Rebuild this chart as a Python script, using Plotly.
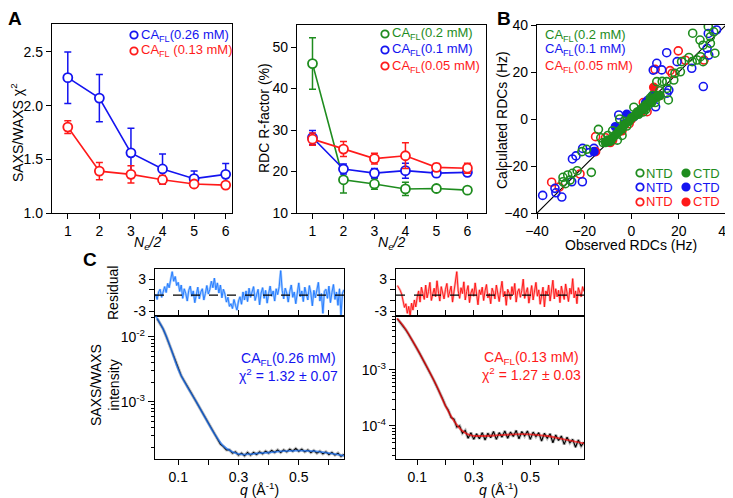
import plotly.graph_objects as go

W, H = 733, 498
OFF = 8  # page body margin: shift all placements up/left by this many pixels
FONT = "Arial, Liberation Sans, sans-serif"

BLUE = "#1414f0"
RED = "#ff1a1a"
GREEN = "#1e8c1e"
RES_BLUE = "#1f78ff"
RES_RED = "#ff0d0d"

# ── Panel A (left): SAXS/WAXS chi^2 vs Ne/2 ──
ne_half = [1, 2, 3, 4, 5, 6]
chi2_026 = [2.26, 2.07, 1.56, 1.41, 1.32, 1.36]
chi2_026_err = [0.24, 0.22, 0.23, 0.14, 0.07, 0.10]
chi2_013 = [1.80, 1.39, 1.36, 1.31, 1.27, 1.26]
chi2_013_err = [0.06, 0.08, 0.08, 0.04, 0.03, 0.03]

# ── Panel A (right): RDC R-factor vs Ne/2 ──
rfac_02 = [46.0, 18.0, 17.0, 15.8, 15.9, 15.5]
rfac_02_err = [6.2, 3.2, 1.3, 1.6, 0.5, 0.5]
rfac_01 = [28.2, 20.6, 19.6, 20.2, 19.6, 19.8]
rfac_01_err = [1.7, 1.2, 1.1, 1.8, 0.8, 0.7]
rfac_005 = [27.8, 25.4, 23.1, 23.8, 21.0, 20.8]
rfac_005_err = [1.5, 1.8, 1.3, 3.1, 0.9, 1.2]

# ── Panel B: calculated vs observed RDCs ──
g_ntd_obs = [-29, -29, -27, -26, -25, -23, -28, -17, -21, -19, -14, -13, -12, -10, -8, -6, -4,
             -2, -5, -3, 1, 3, 5, 7, 8, 10, 11, 13, 15, 15.6, 17.9, 18.4, 20.7, 21.2, 24.3, 25.7,
             27.8, 29.2, 30.3, 25.9, 29, 30.3, 32.5, 33.4, 34.8, 33.4, 35.3, 9, 12, 6, 14.9, 10.7]
g_ntd_calc = [-26.7, -24.8, -23.8, -26, -23.1, -22, -27.5, -22.7, -13.9, -12.9, -4.4, -8, -10,
              -7, -5, -9, -7, -3, 0, -1, 5, 2, 3, 6, 9, 7, 10, 16, 13, 8.1, 16.6, 19.4, 20.1,
              24.4, 26.2, 24.4, 25.1, 26.5, 24.4, 36.5, 33.6, 31.4, 39.3, 35, 37.1, 32.2, 28,
              10, 12, 4, 15.9, 15.9]
g_ctd_obs = [-11, -10, -9, -8, -7, -5, -4, -3, -1, 0, 1, 2, 3, 4, 5, 6, 7, 8, 9, 10, 11, 12,
             -6, 2.5, 5.5, 8.5]
g_ctd_calc = [-10, -9, -9.5, -8, -7, -5, -4, -2.5, -1, 0.5, 1, 2, 2.5, 4, 5, 6, 6.5, 8, 8.5, 9,
              9.5, 10, -6, 3, 4.5, 7]
b_ntd_obs = [-37.6, -32.4, -32, -29.5, -25.3, -20.8, -25, -23.5, -17.9, -20.7, -15.9, -9.6,
             -5.4, 10.2, 14.9, 10.7, 12.8, 9.2, 19.3, 25.5, 15.8, 15, 32.5, 36, 32, 32.7, 30.4,
             -3, 4, 7]
b_ntd_calc = [-32.5, -29.5, -31.4, -33.2, -26.7, -26.7, -17, -15.7, -14.3, -12.5, -12.5, -9.6,
              1.7, 5.2, 28.2, 23.7, 20.9, 20.8, 24.4, 21.6, 12.3, 11, 36.4, 37.9, 30.1, 27.2,
              13.8, -2, 4, 8]
b_ctd_obs = [-15.9, -6.8, -2, 1, 6, 9]
b_ctd_calc = [-13.9, -3.3, 2, 1, 7, 10]
r_ntd_obs = [-33.8, -30.6, -21.8, -15.2, -11, -6, -1, 3, 6.6, 10, 16.3, 17.2, 19.8, 22.8,
             30.7, 12, -9, 5]
r_ntd_calc = [-26.9, -29, -23.4, -7.5, -8, -6, -2, 3, 3.1, 21.1, 20.6, 19.4, 29, 25, 25.1,
              10, -10, 7]
r_ctd_obs = [-15.2, -8, 0, 9.4, -4, 4]
r_ctd_calc = [-13.9, -9, 0, 13.5, -5, 3]
rdc_diag = [-40, 40]

# ── Panel C: residuals (uniform q grid: start + step) ──
res_q0_026, res_dq_026 = 0.025, 0.005
res_026 = [0.2, -0.8, 0.6, 1.1, -0.4, 0.9, 1.6, 0.5, 2.2, 1.4,
           3.1, 4.4, 2.6, 3.5, 1.8, 2.4, 0.7, 1.9, -0.6, 1.2,
           0.3, -1.1, 0.9, 1.7, -0.2, 0.8, -1.4, 0.4, 1.5, -0.7,
           0.6, 1.2, -0.9, 0.3, 1.8, 0.2, 1.1, 2.6, 1.4, 3.2,
           1.0, 2.3, 0.4, 1.9, -0.5, 1.1, 0.2, -1.3, -0.4, -2.1,
           -1.6, -2.5, -0.8, -1.9, -2.8, -1.1, -0.3, -1.7, 0.6, -0.9,
           0.8, -1.2, 1.3, -0.4, 0.5, 1.6, -1.0, 0.2, 1.1, -1.8,
           0.4, 1.4, -0.6, 0.9, -1.5, 0.3, 1.7, -0.2, 0.8, -1.1,
           1.2, 0.1, 1.6, 4.6, 0.9, -0.7, 1.3, 0.4, -1.3, 0.7,
           1.9, -0.4, 0.6, -1.6, 1.0, 2.3, -0.3, 0.8, -1.2, 1.5,
           0.2, -0.9, 1.8, 0.4, -2.0, 0.9, -0.5, 1.3, 2.4, -1.1,
           0.3, -3.4, 0.7, 1.1, -0.6, 1.7, -1.4, 0.5, 2.0, -0.8,
           0.6, -1.9, 1.2, -3.7, 0.4, 1.0]
res_q0_013, res_dq_013 = 0.03, 0.005
res_013 = [1.8, 1.4, 0.9, 0.2, -1.2, -2.3, -1.6, -3.4, -2.1, -3.9,
           -1.5, -2.8, -0.9, -2.2, -0.4, 0.8, -1.3, 1.5, 0.3, -0.8,
           1.9, -0.5, 0.7, 2.4, -1.0, 0.4, 1.3, -0.3, 2.7, 0.6,
           -1.1, 1.6, 0.2, -0.7, 1.1, 2.2, -0.4, 0.9, 1.7, -1.3,
           0.5, 2.1, 4.4, 0.8, -0.6, 1.4, 0.3, 2.5, -0.9, 0.7,
           1.8, -1.4, 0.4, 1.2, -0.2, 2.3, 0.6, -1.8, 1.0, 0.1,
           1.5, -1.0, 0.8, 2.0, -0.5, 0.3, -1.6, 1.3, 0.5, -0.7,
           1.9, 0.2, -1.2, 0.9, 2.6, -0.3, 0.7, -1.9, 1.1, 0.4,
           -0.8, 1.6, 0.1, 2.2, -1.3, 0.6, 1.2, -0.4, 0.9, 3.0,
           -0.6, 0.5, 1.4, -1.5, 0.2, 1.8, -0.9, 0.7, 2.4, -0.2,
           1.0, -1.7, 0.4, 1.5, -2.2, 0.8, 0.1, 1.9, -1.1, 0.6,
           2.8, -0.7, 1.2, -0.3, 0.9, -1.4, 1.7, 0.3, -0.8, 2.1,
           0.5, -1.2, 1.3, 0.2, 3.1, -0.5, 0.8, -1.6, 1.4, 0.4,
           -0.3, 1.6, 0.7]

# ── Panel C: intensities (log10 values) ──
exp_q0, exp_dq = 0.03, 0.01
exp_log_026 = [-1.72, -1.80, -1.88, -1.99, -2.11, -2.24, -2.37, -2.50, -2.60, -2.68,
               -2.77, -2.84, -2.92, -3.00, -3.08, -3.17, -3.25, -3.34, -3.42, -3.50,
               -3.58, -3.65, -3.69, -3.74, -3.74, -3.79, -3.77, -3.82, -3.79, -3.83,
               -3.78, -3.82, -3.78, -3.81, -3.77, -3.80, -3.76, -3.79, -3.75, -3.78,
               -3.74, -3.78, -3.74, -3.77, -3.73, -3.76, -3.72, -3.76, -3.73, -3.77,
               -3.74, -3.78, -3.75, -3.79, -3.76, -3.80, -3.77, -3.81, -3.78, -3.82,
               -3.79, -3.84, -3.81]
exp_log_013 = [-2.09, -2.15, -2.21, -2.29, -2.37, -2.45, -2.54, -2.63, -2.72, -2.81,
               -2.90, -3.00, -3.10, -3.20, -3.30, -3.41, -3.52, -3.64, -3.72, -3.85,
               -3.88, -4.02, -4.00, -4.13, -4.08, -4.22, -4.12, -4.24, -4.14, -4.23,
               -4.12, -4.25, -4.13, -4.21, -4.10, -4.24, -4.12, -4.20, -4.09, -4.22,
               -4.11, -4.19, -4.08, -4.23, -4.10, -4.18, -4.09, -4.24, -4.11, -4.19,
               -4.12, -4.27, -4.13, -4.22, -4.14, -4.30, -4.16, -4.26, -4.18, -4.33,
               -4.20, -4.30, -4.24, -4.38, -4.25, -4.36, -4.29]
fit_q_026 = [0.025, 0.05, 0.075, 0.10, 0.13, 0.16, 0.19, 0.22, 0.25, 0.28, 0.31, 0.35,
             0.40, 0.45, 0.50, 0.55, 0.60, 0.65]
fit_log_026 = [-1.68, -1.88, -2.17, -2.50, -2.77, -3.00, -3.25, -3.49, -3.68, -3.77, -3.81,
               -3.80, -3.78, -3.76, -3.75, -3.76, -3.79, -3.83]
fit_q_013 = [0.028, 0.05, 0.08, 0.11, 0.14, 0.17, 0.20, 0.23, 0.26, 0.29, 0.32, 0.38, 0.44,
             0.50, 0.56, 0.62, 0.69]
fit_log_013 = [-2.08, -2.21, -2.45, -2.72, -3.00, -3.30, -3.64, -3.91, -4.09, -4.17, -4.18,
               -4.17, -4.15, -4.15, -4.18, -4.24, -4.31]

q_ticks = [0.1, 0.2, 0.3, 0.4, 0.5, 0.6]
q_ticktext = ["0.1", "", "0.3", "", "0.5", ""]


def xdom(l, r):
    return [(l - OFF) / W, (r - OFF) / W]


def ydom(t, b):
    return [1 - (b - OFF) / H, 1 - (t - OFF) / H]


def axis(**kw):
    base = dict(showline=True, linecolor="black", linewidth=1.3, mirror=True,
                ticks="outside", ticklen=5, tickwidth=1.3, tickcolor="black",
                showgrid=False, zeroline=False, automargin=False,
                tickfont=dict(size=14, color="black", family=FONT))
    base.update(kw)
    return base


def log_axis(lo, hi, decades, **kw):
    minors = [m * 10.0 ** d for d in range(-5, 0) for m in range(2, 10)]
    return axis(type="log", range=[lo, hi], tickmode="array",
                tickvals=[10.0 ** d for d in decades],
                ticktext=[f"10<sup>{d}</sup>" for d in decades],
                ticklen=6, minor=dict(tickmode="array", tickvals=minors, ticks="outside",
                                      ticklen=3, tickwidth=1, tickcolor="black"), **kw)


fig = go.Figure()

# Panel A left
for y, e, c in [(chi2_026, chi2_026_err, BLUE), (chi2_013, chi2_013_err, RED)]:
    fig.add_trace(go.Scatter(
        x=ne_half, y=y, mode="lines+markers", xaxis="x", yaxis="y",
        line=dict(color=c, width=1.6),
        marker=dict(symbol="circle", size=9, color="white", line=dict(color=c, width=1.8)),
        error_y=dict(type="data", array=e, color=c, thickness=1.5, width=3.5),
    ))

# Panel A right
for y, e, c in [(rfac_02, rfac_02_err, GREEN), (rfac_01, rfac_01_err, BLUE),
                (rfac_005, rfac_005_err, RED)]:
    fig.add_trace(go.Scatter(
        x=ne_half, y=y, mode="lines+markers", xaxis="x2", yaxis="y2",
        line=dict(color=c, width=1.6),
        marker=dict(symbol="circle", size=9, color="white", line=dict(color=c, width=1.8)),
        error_y=dict(type="data", array=e, color=c, thickness=1.5, width=3.5),
    ))

# Panel B
fig.add_trace(go.Scatter(x=rdc_diag, y=rdc_diag, mode="lines", xaxis="x3", yaxis="y3",
                         line=dict(color="black", width=1.2)))
for xs, ys, c, sym in [(r_ntd_obs, r_ntd_calc, RED, "circle-open"),
                       (b_ntd_obs, b_ntd_calc, BLUE, "circle-open"),
                       (r_ctd_obs, r_ctd_calc, RED, "circle"),
                       (b_ctd_obs, b_ctd_calc, BLUE, "circle"),
                       (g_ntd_obs, g_ntd_calc, GREEN, "circle-open"),
                       (g_ctd_obs, g_ctd_calc, GREEN, "circle")]:
    fig.add_trace(go.Scatter(
        x=xs, y=ys, mode="markers", xaxis="x3", yaxis="y3",
        marker=dict(symbol=sym, size=8, color=c, line=dict(color=c, width=1.6)),
    ))

# Panel C residuals
for res, q0, dq, c, xa, ya, halo in [
        (res_026, res_q0_026, res_dq_026, RES_BLUE, "x4", "y4", "rgba(90,160,255,0.55)"),
        (res_013, res_q0_013, res_dq_013, RES_RED, "x6", "y6", "rgba(255,110,110,0.55)")]:
    fig.add_trace(go.Scatter(y=res, x0=q0, dx=dq, mode="lines", xaxis=xa, yaxis=ya,
                             line=dict(color=halo, width=2.4)))
    fig.add_trace(go.Scatter(y=res, x0=q0, dx=dq, mode="lines", xaxis=xa, yaxis=ya,
                             line=dict(color=c, width=0.9)))

# Panel C intensities
for exp_log, fq, flog, c, xa, ya in [
        (exp_log_026, fit_q_026, fit_log_026, RES_BLUE, "x5", "y5"),
        (exp_log_013, fit_q_013, fit_log_013, RES_RED, "x7", "y7")]:
    fig.add_trace(go.Scatter(y=[10 ** v for v in exp_log], x0=exp_q0, dx=exp_dq,
                             mode="lines", xaxis=xa, yaxis=ya,
                             line=dict(color="rgba(0,0,0,0.25)", width=3.2)))
    fig.add_trace(go.Scatter(y=[10 ** v for v in exp_log], x0=exp_q0, dx=exp_dq,
                             mode="lines", xaxis=xa, yaxis=ya,
                             line=dict(color="black", width=1.1)))
    fig.add_trace(go.Scatter(x=fq, y=[10 ** v for v in flog], mode="lines",
                             xaxis=xa, yaxis=ya, line=dict(color=c, width=1.8, shape="spline"),
                             opacity=0.7))

# ── annotations and legend symbols (pixel positions) ──
annotations = []
shapes = []


def ann(px, py, text, size=14, color="black", angle=0, xanchor="center", bold=False):
    annotations.append(dict(
        x=(px - OFF) / W, y=1 - (py - OFF) / H, xref="paper", yref="paper",
        text=f"<b>{text}</b>" if bold else text,
        showarrow=False, textangle=angle, xanchor=xanchor, yanchor="middle",
        font=dict(size=size, color=color, family=FONT)))


def circ(px, py, color, filled=False, r=3.7):
    px, py = px - OFF, py - OFF
    shapes.append(dict(
        type="circle", xref="paper", yref="paper",
        x0=(px - r) / W, x1=(px + r) / W, y0=1 - (py + r) / H, y1=1 - (py - r) / H,
        line=dict(color=color, width=1.8), fillcolor=color if filled else "white"))


CAFL = "CA<sub>FL</sub>"

ann(15, 18, "A", size=19, bold=True)
ann(504, 18, "B", size=19, bold=True)
ann(90, 260, "C", size=19, bold=True)

# Panel A left legend and titles
circ(134, 35, BLUE)
ann(139, 35, f"{CAFL}(0.26 mM)", 13, BLUE, xanchor="left")
circ(134, 51, RED)
ann(139, 51, f"{CAFL} (0.13 mM)", 13, RED, xanchor="left")
ann(17, 133, "SAXS/WAXS χ<sup>2</sup>", 14, angle=-90)
ann(147, 243, "<i>N<sub>e</sub>/2</i>", 14)

# Panel A right legend and titles
circ(385, 34, GREEN)
ann(390, 34, f"{CAFL}(0.2 mM)", 13, GREEN, xanchor="left")
circ(385, 50, BLUE)
ann(390, 50, f"{CAFL}(0.1 mM)", 13, BLUE, xanchor="left")
circ(385, 66, RED)
ann(390, 66, f"{CAFL}(0.05 mM)", 13, RED, xanchor="left")
ann(264, 118, "RDC R-factor (%)", 14, angle=-90)
ann(391, 243, "<i>N<sub>e</sub>/2</i>", 14)

# Panel B legend and titles
ann(543, 35, f"{CAFL}(0.2 mM)", 13, GREEN, xanchor="left")
ann(543, 50, f"{CAFL}(0.1 mM)", 13, BLUE, xanchor="left")
ann(543, 66, f"{CAFL}(0.05 mM)", 13, RED, xanchor="left")
for py, c in [(173, GREEN), (187, BLUE), (202, RED)]:
    circ(640, py, c)
    ann(644, py, "NTD", 13, c, xanchor="left")
    circ(686, py, c, filled=True)
    ann(691, py, "CTD", 13, c, xanchor="left")
ann(502, 120, "Calculated RDCs (Hz)", 14, angle=-90)
ann(631, 245, "Observed RDCs (Hz)", 14)

# Panel C titles and labels
ann(113, 293, "Residual", 14, angle=-90)
ann(105, 385, "SAXS/WAXS<br>intensity", 14, angle=-90)
ann(259, 489, "<i>q</i> (Å<sup>-1</sup>)", 14)
ann(498, 489, "<i>q</i> (Å<sup>-1</sup>)", 14)
ann(288, 367, f"{CAFL}(0.26 mM)<br>χ<sup>2</sup> = 1.32 ± 0.07", 14, BLUE)
ann(531, 366, f"{CAFL}(0.13 mM)<br>χ<sup>2</sup> = 1.27 ± 0.03", 14, RED)

for xa, ya in [("x4", "y4"), ("x6", "y6")]:
    shapes.append(dict(type="line", xref=f"{xa} domain", yref=ya, x0=0, x1=1, y0=0, y1=0,
                       line=dict(color="black", width=1.4, dash="dash")))

res_ticks = [-3, -1, 1, 3]
res_ticktext = ["-3", "", "", "3"]

fig.update_layout(
    width=W, height=H, margin=dict(l=0, r=0, t=0, b=0),
    paper_bgcolor="white", plot_bgcolor="white", showlegend=False,
    font=dict(family=FONT, color="black"),
    xaxis=axis(domain=xdom(52, 232), range=[0.5, 6.2], tickvals=ne_half, anchor="y"),
    yaxis=axis(domain=ydom(24, 213), range=[1.0, 2.76], tickvals=[1.0, 1.5, 2.0, 2.5],
               tickformat=".1f", anchor="x"),
    xaxis2=axis(domain=xdom(297, 486), range=[0.5, 6.6], tickvals=ne_half, anchor="y2"),
    yaxis2=axis(domain=ydom(25, 213), range=[10, 55.3], tickvals=[10, 20, 30, 40, 50],
                anchor="x2"),
    xaxis3=axis(domain=xdom(537, 726), range=[-40, 40], tickvals=[-40, -20, 0, 20, 40],
                anchor="y3"),
    yaxis3=axis(domain=ydom(25, 213), range=[-40, 40], tickvals=[-40, -20, 0, 20, 40],
                anchor="x3"),
    xaxis4=axis(domain=xdom(155, 344), range=[0.023, 0.65], tickvals=q_ticks,
                showticklabels=False, ticks="", anchor="y4"),
    yaxis4=axis(domain=ydom(269, 316), range=[-3.9, 4.9], tickvals=res_ticks,
                ticktext=res_ticktext, anchor="x4"),
    xaxis5=axis(domain=xdom(155, 344), range=[0.023, 0.65], tickvals=q_ticks,
                ticktext=q_ticktext, mirror="ticks", anchor="y5"),
    yaxis5=log_axis(-3.88, -1.68, [-3, -2], domain=ydom(316, 459), anchor="x5"),
    xaxis6=axis(domain=xdom(396, 584), range=[0.025, 0.69], tickvals=q_ticks,
                showticklabels=False, ticks="", anchor="y6"),
    yaxis6=axis(domain=ydom(269, 316), range=[-3.9, 4.9], tickvals=res_ticks,
                ticktext=res_ticktext, anchor="x6"),
    xaxis7=axis(domain=xdom(396, 584), range=[0.025, 0.69], tickvals=q_ticks,
                ticktext=q_ticktext, mirror="ticks", anchor="y7"),
    yaxis7=log_axis(-4.59, -2.04, [-4, -3], domain=ydom(316, 459), anchor="x7"),
    annotations=annotations,
    shapes=shapes,
)

fig.write_html("out.html")
